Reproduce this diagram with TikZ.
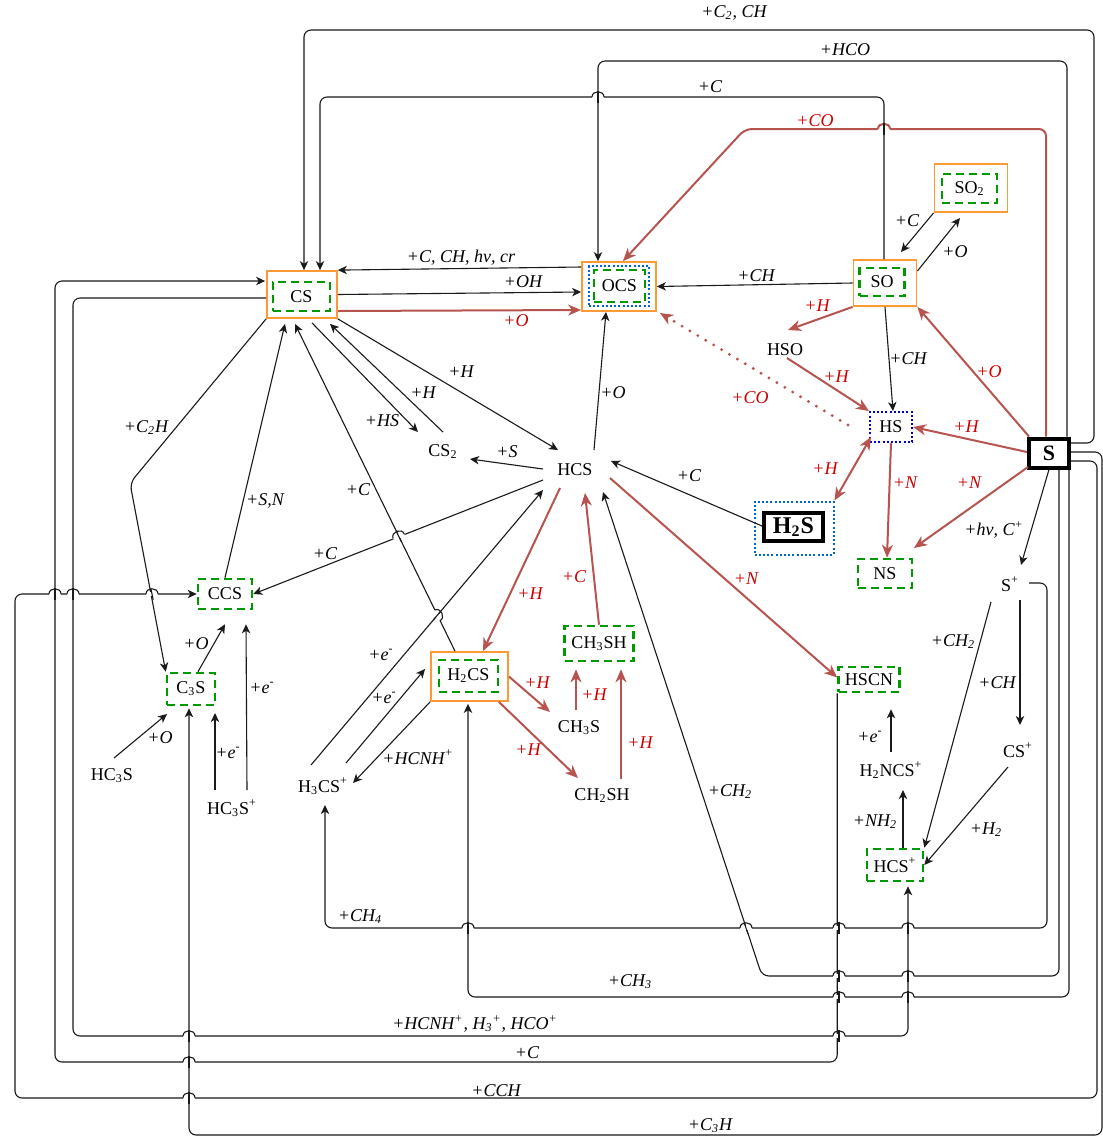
\documentclass[tikz,border=0pt]{standalone}
\usepackage{fontspec}
\setmainfont{Liberation Serif}
\usetikzlibrary{arrows.meta,calc}
\definecolor{redline}{HTML}{B85450}
\definecolor{redtxt}{HTML}{CC0000}
\definecolor{orng}{HTML}{FF9933}
\definecolor{grn}{HTML}{009900}
\definecolor{blu}{HTML}{0066CC}
\definecolor{navy}{HTML}{0000CC}
\definecolor{ink}{HTML}{1A1A1A}
\newcommand\hopX[5]{%
  \fill[white] (#1-6,#2-2) rectangle (#1+6,#2+2);
  \draw[#5] (#1-6,#2) .. controls (#1-6,#2-7) and (#1+6,#2-7) .. (#1+6,#2);
  \draw[ink,line width=0.55pt] (#1-#3,#2-#4) -- (#1+#3,#2+#4);}
\newcommand\hopR[4]{%
  \begin{scope}[shift={(#1,#2)},rotate=#3]
  \fill[white] (-6,-2) rectangle (6,2);
  \draw[#4] (-6,0) .. controls (-6,-7) and (6,-7) .. (6,0);
  \end{scope}}
\begin{document}
\begin{tikzpicture}[x=0.5pt,y=-0.5pt,
 every node/.style={font=\fontsize{9}{11}\selectfont},
 cnx/.style={draw=ink,line width=0.55pt,-{Stealth[length=4.5pt,width=4.2pt,inset=1.3pt]}},
 rcx/.style={draw=redline,line width=1pt,-{Stealth[length=6.5pt,width=5.5pt,inset=2pt]}},
 lpx/.style={cnx,rounded corners=3.5pt},
 lab/.style={font=\fontsize{9}{11}\selectfont\itshape,inner sep=0pt},
 rlab/.style={lab,text=redtxt},
 obox/.style={draw=orng,line width=0.9pt,fill=white,inner sep=0pt},
 gbox/.style={draw=grn,line width=1.3pt,dash pattern=on 4pt off 2.5pt,inner sep=0pt},
 dotbox/.style={draw=blu,line width=1pt,dash pattern=on 1pt off 1.1pt,inner sep=0pt},
 tx/.style={inner sep=1pt},
 kbox/.style={draw=black,line width=2pt,fill=white,inner sep=0pt,font=\fontsize{11}{13}\selectfont\bfseries}]
\fill[white] (0,0) rectangle (1103,1137);
\useasboundingbox (0,0) rectangle (1103,1137);

% ---------- nodes ----------
\node[obox,minimum width=35pt,minimum height=23.5pt] (CS) at (302,294.5) {};
\node[gbox,minimum width=28.5pt,minimum height=14.5pt] (CSg) at (301.5,296.5) {CS};
\node[obox,minimum width=37pt,minimum height=24.5pt] (OCS) at (619,286.5) {};
\node[dotbox,minimum width=30pt,minimum height=20pt] (OCSb) at (619,286) {};
\node[gbox,minimum width=25.5pt,minimum height=16pt] (OCSg) at (619.5,286) {OCS};
\node[obox,minimum width=31.5pt,minimum height=23pt] (SO) at (885,283) {};
\node[gbox,minimum width=22.5pt,minimum height=14pt] (SOg) at (882,282) {SO};
\node[obox,minimum width=36.5pt,minimum height=24pt] (SO2) at (971,188) {};
\node[gbox,minimum width=27.5pt,minimum height=14.5pt] (SO2g) at (969.5,188.5) {SO\textsubscript{2}};
\node[tx] (HSO) at (785,350) {HSO};
\node[dotbox,draw=navy,minimum width=21pt,minimum height=15pt] (HS) at (891,427) {HS};
\node[kbox,minimum width=20pt,minimum height=14.5pt] (S) at (1049,453) {S};
\node[dotbox,minimum width=39.5pt,minimum height=26.5pt] (H2S) at (794,528) {};
\node[kbox,minimum width=29.5pt,minimum height=14pt,font=\fontsize{12}{14}\selectfont\bfseries] (H2Sk) at (793.5,527) {H\textsubscript{2}S};
\node[gbox,minimum width=27pt,minimum height=14.5pt] (NS) at (885,573.5) {NS};
\node[tx] (HCS) at (575,470) {HCS};
\node[tx] (CS2) at (443,452) {CS\textsubscript{2}};
\node[gbox,minimum width=27pt,minimum height=15pt] (CCS) at (225,594) {CCS};
\node[gbox,minimum width=24pt,minimum height=16pt] (C3S) at (191,689) {C\textsubscript{3}S};
\node[tx] (HC3S) at (112,776) {HC\textsubscript{3}S};
\node[tx] (HC3Sp) at (232,808) {HC\textsubscript{3}S\textsuperscript{+}};
\node[tx] (H3CSp) at (323,786) {H\textsubscript{3}CS\textsuperscript{+}};
\node[obox,minimum width=38.5pt,minimum height=24.5pt] (H2CS) at (469.5,676.5) {};
\node[gbox,minimum width=29.5pt,minimum height=16pt] (H2CSg) at (468.5,676) {H\textsubscript{2}CS};
\node[gbox,minimum width=34.5pt,minimum height=17.5pt] (CH3SH) at (599,643.5) {CH\textsubscript{3}SH};
\node[tx] (CH3S) at (579,728) {CH\textsubscript{3}S};
\node[tx] (CH2SH) at (602,796) {CH\textsubscript{2}SH};
\node[gbox,minimum width=30.5pt,minimum height=12.5pt] (HSCN) at (869,679.5) {HSCN};
\node[tx] (H2NCSp) at (891,770) {H\textsubscript{2}NCS\textsuperscript{+}};
\node[gbox,minimum width=28pt,minimum height=16pt] (HCSp) at (895,865) {HCS\textsuperscript{+}};
\node[tx] (Sp) at (1010,584) {S\textsuperscript{+}};
\node[tx] (CSp) at (1018,750) {CS\textsuperscript{+}};

% ---------- long loops ----------
\draw[lpx] ($(S.east)+(0,-10)$) -| (1094,30) -| ($(CS.north)+(2,0)$);
\draw[lpx] ($(S.north)+(18,0)$) |- (598,61) -- ($(OCS.north)+(-21,0)$);
\draw[lpx] ($(SO.north)+(-1,0)$) |- (320,97) -- ($(CS.north)+(18,0)$);
\draw[rcx,rounded corners=3.5pt] ($(S.north)+(-3,0)$) |- (745,129) -- ($(OCS.north)+(4,0)$);
\draw[lpx] ($(Sp)+(19,-1)$) -| (1047,928) -| ($(H3CSp)+(2,19)$);
\draw[lpx] ($(S.south)+(10,0)$) |- (762,976) -- ($(HCS)+(28,22)$);
\draw[lpx] ($(S.south)+(20,0)$) |- (468,997) -- ($(H2CS.south)+(-1.5,2)$);
\draw[lpx] ($(S.east)+(0,8)$) -| (1097,1098) -| (15,594) -- (CCS.west);
\draw[lpx] ($(S.east)+(0,-1)$) -| (1102,1135) -| ($(C3S.south)+(-2,2)$);
\draw[lpx] ($(CS.west)+(0,3.5)$) -| (73,1036) -| ($(HCSp.south)+(13,4)$);
\draw[lpx] (HSCN.south west) |- (55,1062) |- ($(CS.west)+(-1,-13.5)$);

% ---------- straight connectors ----------
\draw[cnx] ($(OCS.west)+(0,-19.5)$) -- (CS.north east);
\draw[cnx] (CS.east) -- ($(OCS.west)+(0,5.5)$);
\draw[rcx] ($(CS.east)+(0,16.5)$) -- ($(OCS.west)+(0,23.5)$);
\draw[cnx] (SO.west) -- (OCS.east);
\draw[cnx] (SO2.south west) -- ($(SO)+(16,-31)$);
\draw[cnx] ($(SO.east)+(0,-12)$) -- ($(SO2)+(-11,30)$);
\draw[rcx] (SO.south west) -- ($(HSO)+(3,-20)$);
\draw[rcx] ($(HSO)+(2,8)$) -- (HS.north west);
\draw[cnx] (SO.south) -- ($(HS.north)+(2,0)$);
\draw[rcx,line width=1.6pt,line cap=round,dash pattern=on 0pt off 4.6pt] ($(HS)+(-43,-2)$) -- ($(OCS)+(41,26.5)$);
\draw[rcx] ($(S.north west)+(2,0)$) -- (SO.south east);
\draw[rcx] ($(S.west)+(0,-1)$) -- (HS.east);
\draw[rcx,{Stealth[length=6.5pt,width=5.5pt,inset=2pt]}-{Stealth[length=6.5pt,width=5.5pt,inset=2pt]}] ($(HS)+(-20,10)$) -- (H2S.north east);
\draw[rcx] (HS.south) -- ($(NS.north)+(2,0)$);
\draw[rcx] ($(S)+(-21,14)$) -- ($(NS)+(29,-25.5)$);
\draw[cnx] (S.south) -- ($(Sp)+(11,-19)$);
\draw[cnx] ($(H2Sk.west)+(0,-1)$) -- ($(HCS)+(36,-9)$);
\draw[cnx] ($(HCS)+(19,-20)$) -- ($(OCS.south)+(-13,0)$);
\draw[cnx] (CS.south east) -- ($(HCS)+(-17,-20)$);
\draw[cnx] ($(CS2)+(0,-20)$) -- ($(CS.south)+(28,5)$);
\draw[cnx] ($(CS.south)+(10,4)$) -- ($(CS2)+(-25,-20)$);
\draw[cnx] ($(HCS)+(-32,-1)$) -- ($(CS2)+(27,7)$);
\draw[cnx] ($(H2CS.north)+(-14.5,0)$) -- ($(CS.south)+(-7,5)$);
\draw[lpx] (CS.south west) -- (130,483) -- (C3S.north west);
\draw[cnx] (CCS.north) -- ($(CS.south)+(-17,5)$);
\draw[cnx] ($(HCS)+(-32,10)$) -- (CCS.east);
\draw[cnx] ($(C3S.north)+(7,0)$) -- ($(CCS.south)+(0,14)$);
\draw[cnx] ($(HC3Sp)+(15,-18)$) -- ($(CCS.south)+(21,14)$);
\draw[cnx] ($(HC3S)+(2,-18)$) -- ($(C3S)+(-24,25)$);
\draw[cnx] ($(HC3Sp)+(-17,-18)$) -- ($(C3S)+(24,24)$);
\draw[cnx] ($(H3CSp)+(-12,-21)$) -- ($(HCS)+(-32,20)$);
\draw[cnx] ($(H3CSp)+(23,-23)$) -- ($(H2CS)+(-44.5,-7.5)$);
\draw[cnx] (H2CS.south west) -- ($(H3CSp)+(30,-3)$);
\draw[rcx] ($(HCS)+(-15,18)$) -- ($(H2CS.north)+(13.5,0)$);
\draw[rcx] (CH3SH.north) -- ($(HCS)+(10,23)$);
\draw[rcx] (H2CS.east) -- ($(CH3S)+(-29,-16)$);
\draw[rcx] ($(H2CS.south east)+(-10,0)$) -- ($(CH2SH)+(-24,-18)$);
\draw[rcx] ($(CH3S)+(-3,-18)$) -- ($(CH3SH.south)+(-23,7)$);
\draw[rcx] ($(CH2SH)+(19,-17)$) -- ($(CH3SH.south)+(22,7)$);
\draw[rcx] ($(HCS)+(35,8)$) -- ($(HSCN.west)+(0,-2)$);
\draw[cnx] ($(H2NCSp)+(0,-18)$) -- ($(HSCN.south)+(22,16)$);
\draw[cnx] ($(HCSp.north)+(8,0)$) -- ($(H2NCSp)+(12,20)$);
\draw[cnx] ($(Sp)+(-19,18)$) -- (HCSp.north east);
\draw[cnx] ($(Sp)+(10,16)$) -- ($(CSp)+(2,-25)$);
\draw[cnx] ($(CSp)+(-10,17)$) -- (HCSp.east);

% ---------- line hops ----------
\hopX{598}{97}{0}{6}{ink,line width=0.55pt}
\hopX{884}{129}{0}{6}{redline,line width=1pt}
\hopX{55}{594}{0}{6}{ink,line width=0.55pt}
\hopX{73}{594}{0}{6}{ink,line width=0.55pt}
\hopX{152}{594}{1.2}{5.9}{ink,line width=0.55pt}
\hopX{468}{928}{0}{6}{ink,line width=0.55pt}
\hopX{746}{928}{1.9}{5.7}{ink,line width=0.55pt}
\hopX{839}{928}{0}{6}{ink,line width=0.55pt}
\hopX{908}{928}{0}{6}{ink,line width=0.55pt}
\hopX{839}{976}{0}{6}{ink,line width=0.55pt}
\hopX{908}{976}{0}{6}{ink,line width=0.55pt}
\hopX{839}{997}{0}{6}{ink,line width=0.55pt}
\hopX{908}{997}{0}{6}{ink,line width=0.55pt}
\hopX{189}{1036}{0}{6}{ink,line width=0.55pt}
\hopX{839}{1036}{0}{6}{ink,line width=0.55pt}
\hopX{189}{1062}{0}{6}{ink,line width=0.55pt}
\hopX{189}{1098}{0}{6}{ink,line width=0.55pt}
\hopR{398.7}{536.2}{21.3}{ink,line width=0.55pt}
\draw[ink,line width=0.55pt] (396.1,530.8) -- (401.3,541.6);
\hopR{437.2}{615.4}{-64.1}{ink,line width=0.55pt}
\draw[ink,line width=0.55pt] (433.3,620) -- (441.1,610.8);

% ---------- labels ----------
\node[lab] (l1) at (734,13) {+C\textsubscript{2}, CH};
\node[lab] (l2) at (845,50) {+HCO};
\node[lab] (l3) at (710,87) {+C};
\node[rlab] (l4) at (815,121) {+CO};
\node[lab] (l5) at (461,258) {+C, CH, hν, cr};
\node[lab] (l6) at (523,282) {+OH};
\node[rlab] (l7) at (516,321) {+O};
\node[lab] (l8) at (756,276) {+CH};
\node[lab] (l9) at (907,221) {+C};
\node[lab] (l10) at (955,252) {+O};
\node[rlab] (l11) at (817,306) {+H};
\node[rlab] (l12) at (836,377) {+H};
\node[rlab] (l13) at (750,398) {+CO};
\node[lab] (l14) at (908,359) {+CH};
\node[rlab] (l15) at (989,372) {+O};
\node[rlab] (l16) at (966,427) {+H};
\node[rlab] (l17) at (825,469) {+H};
\node[rlab] (l18) at (905,483) {+N};
\node[rlab] (l19) at (969,483) {+N};
\node[lab] (l20) at (994,530) {+hν, C\textsuperscript{+}};
\node[lab] (l21) at (689,476) {+C};
\node[lab] (l22) at (613,393) {+O};
\node[lab] (l23) at (461,372) {+H};
\node[lab] (l24) at (423,393) {+H};
\node[lab] (l25) at (382,421) {+HS};
\node[lab] (l26) at (507,452) {+S};
\node[lab] (l27) at (146,428) {+C\textsubscript{2}H};
\node[lab] (l28) at (265,501) {+S,N};
\node[lab] (l29) at (358,490) {+C};
\node[lab] (l30) at (325,554) {+C};
\node[rlab] (l31) at (530,594) {+H};
\node[lab] (l32) at (196,644) {+O};
\node[rlab] (l33) at (574,577) {+C};
\node[rlab] (l34) at (746,579) {+N};
\node[lab] (l35) at (953,642) {+CH\textsubscript{2}};
\node[lab] (l36) at (381,655) {+e\textsuperscript{-}};
\node[lab] (l37) at (384,698) {+e\textsuperscript{-}};
\node[lab] (l38) at (418,757) {+HCNH\textsuperscript{+}};
\node[rlab] (l39) at (537,683) {+H};
\node[rlab] (l40) at (528,750) {+H};
\node[lab] (l41) at (262,688) {+e\textsuperscript{-}};
\node[lab] (l42) at (228,753) {+e\textsuperscript{-}};
\node[lab] (l43) at (160,738) {+O};
\node[lab] (l44) at (360,917) {+CH\textsubscript{4}};
\node[rlab] (l45) at (594,695) {+H};
\node[rlab] (l46) at (640,743) {+H};
\node[lab] (l47) at (730,792) {+CH\textsubscript{2}};
\node[lab] (l48) at (870,737) {+e\textsuperscript{-}};
\node[lab] (l49) at (875,822) {+NH\textsubscript{2}};
\node[lab] (l50) at (997,683) {+CH};
\node[lab] (l51) at (986,830) {+H\textsubscript{2}};
\node[lab] (l52) at (630,982) {+CH\textsubscript{3}};
\node[lab] (l53) at (475,1024) {+HCNH\textsuperscript{+}, H\textsubscript{3}\textsuperscript{+}, HCO\textsuperscript{+}};
\node[lab] (l54) at (527,1053) {+C};
\node[lab] (l55) at (496,1091) {+CCH};
\node[lab] (l56) at (710,1126) {+C\textsubscript{3}H};
\end{tikzpicture}
\end{document}
